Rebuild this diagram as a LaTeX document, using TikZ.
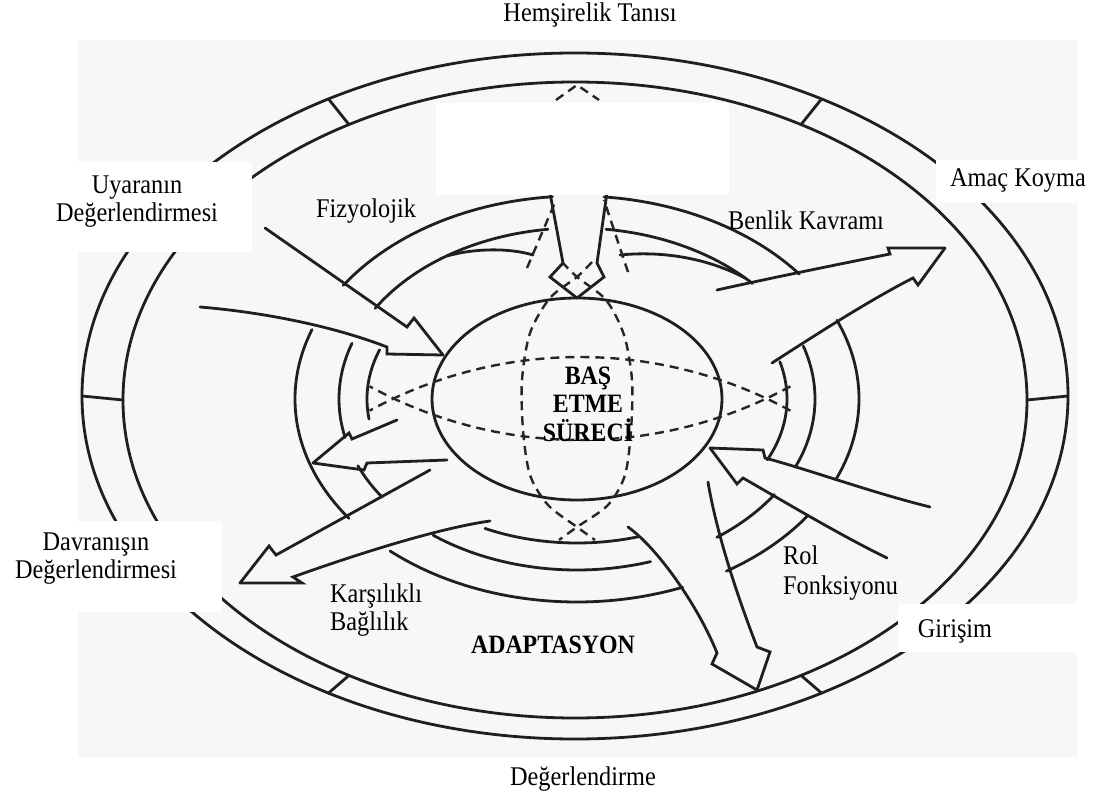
\documentclass[tikz,border=0pt]{standalone}
\usepackage{fontspec}
\setmainfont{Liberation Serif}[FakeStretch=0.9]
\newcommand\earc[6]{\draw[ln] plot[domain=#5:#6, samples=80, variable=\t] ({#1+#3*cos(\t)},{#2-#4*sin(\t)});}
\begin{document}
\begin{tikzpicture}[x=1pt,y=-1pt,
  ln/.style={line width=2.8pt, draw=black!88, line join=miter, line cap=round},
  dsh/.style={line width=2.4pt, draw=black!85, dash pattern=on 9pt off 6pt},
  lbl/.style={font=\fontsize{27}{28}\selectfont, inner sep=0pt, align=center},
  blbl/.style={font=\fontsize{26.5}{28.5}\selectfont\bfseries, inner sep=0pt, align=center}]
\useasboundingbox (0,0) rectangle (1103,799);
\fill[black!3] (78,40) rectangle (1077,757);
% outer double ring with divisions
\draw[ln] (575,396) ellipse[x radius=493, y radius=343];
\draw[ln] (575,400) ellipse[x radius=452, y radius=318];
\foreach \a in {0,60,...,300}{\draw[ln] ({575+452*cos(\a)},{400-318*sin(\a)}) -- ({575+493*cos(\a)},{396-343*sin(\a)});}
% central coping ellipse
\draw[ln] (577,399) ellipse[x radius=145, y radius=101];
% mode ellipse E1
\earc{577}{399}{282}{203}{95}{146}
\earc{577}{399}{282}{203}{160}{216}
\earc{577}{399}{282}{203}{228.5}{292}
\earc{577}{399}{282}{203}{302}{325}
\earc{577}{399}{282}{203}{-23.5}{22.8}
\earc{577}{399}{282}{203}{38}{84.5}
% E2
\earc{577}{399}{238}{171}{97}{148}
\earc{577}{399}{238}{171}{161}{193}
\earc{577}{399}{238}{171}{203}{215}
\earc{577}{399}{238}{171}{232.8}{288}
\earc{577}{399}{238}{171}{306}{326}
\earc{577}{399}{238}{171}{-23.5}{18}
\earc{577}{399}{238}{171}{42.5}{83}
% E3
\earc{577}{399}{210}{144}{160}{188}
\earc{577}{399}{210}{144}{244}{287}
\earc{577}{399}{210}{144}{-25}{15}
% inner branch curves at top
\draw[ln] (447,256) .. controls (475,248) and (510,248) .. (533,255);
\draw[ln] (745,278) .. controls (705,257) and (660,251) .. (620,255);
% arrow: Uyaranin -> centre
\draw[ln] (265,228) -- (407,327) -- (414,318) -- (443,355);
\draw[ln] (200,307) .. controls (260,312) and (330,325) .. (387,347) -- (387,354) -- (443,355);
% arrow: top -> centre
\draw[ln] (542,150) -- (563,263) -- (550,277) -- (577,298);
\draw[ln] (613,150) -- (597,263) -- (604,277) -- (577,298);
% arrow: -> Amac Koyma
\draw[ln] (717,290) .. controls (780,276) and (850,262) .. (890,254) -- (888,248) -- (945,248);
\draw[ln] (772,363) .. controls (820,332) and (870,300) .. (913,278) -- (918,285) -- (945,248);
% arrow: Rol side -> centre
\draw[ln] (930,507) .. controls (870,492) and (810,470) .. (765,458) -- (763,450) -- (710,448);
\draw[ln] (887,558) .. controls (840,535) and (790,505) .. (743,478) -- (737,484) -- (710,448);
% arrow: -> Degerlendirme
\draw[ln] (628,527) .. controls (660,550) and (700,610) .. (717,653) -- (712,664) -- (757,690);
\draw[ln] (708,482) .. controls (716,530) and (735,590) .. (757,647) -- (770,652) -- (757,690);
% arrow: -> Davranisin Degerlendirmesi
\draw[ln] (430,470) -- (276,555) -- (269,546) -- (240,583);
\draw[ln] (490,521) .. controls (440,528) and (360,553) .. (293,577) -- (302,583) -- (240,583);
% small arrow to the left
\draw[ln] (397,420) -- (352,439) -- (349,433) -- (313,463);
\draw[ln] (447,460) -- (367,463) -- (364,470) -- (313,463);
% dashed lenses
\draw[dsh] plot[domain=61.4:118.6, samples=60, variable=\t] ({580+439.5*cos(\t)},{796.5-439.5*sin(\t)});
\draw[dsh] plot[domain=61.4:118.6, samples=60, variable=\t] ({580+439.5*cos(\t)},{0.5+439.5*sin(\t)});
\draw[dsh] plot[smooth] coordinates {(592,262) (577,277) (550,298) (530,333) (522,380) (523,430) (530,475) (548,505) (577,527) (595,540)};
\draw[dsh] plot[smooth] coordinates {(562,262) (577,277) (606,300) (624,335) (632,380) (631,430) (625,475) (608,505) (577,527) (559,540)};
\draw[dsh] (527,268) -- (556,200);
\draw[dsh] (628,272) -- (604,200);
\draw[dsh] (556,100) -- (577,85) -- (599,100);
% white patches
\fill[white] (436,103) rectangle (729,195);
\fill[white] (40,162) rectangle (252,252);
\fill[white] (936,160) rectangle (1103,203);
\fill[white] (0,521) rectangle (222,612);
\fill[white] (898,604) rectangle (1103,652);
% labels
\node[lbl] (hem) at (590,15) {Hemşirelik Tanısı};
\node[lbl] (uya) at (137,202) {Uyaranın\\Değerlendirmesi};
\node[lbl] (fiz) at (366,211) {Fizyolojik};
\node[lbl] (ben) at (806,220) {Benlik Kavramı};
\node[lbl] (ama) at (1018,181) {Amaç Koyma};
\node[lbl] (dav) at (96,559) {Davranışın\\Değerlendirmesi};
\node[lbl, align=left, anchor=west] (kar) at (330,610) {Karşılıklı\\Bağlılık};
\node[lbl, align=left, anchor=west, font=\fontsize{27}{30}\selectfont] (rol) at (783,573) {Rol\\Fonksiyonu};
\node[lbl] (gir) at (955,631) {Girişim};
\node[blbl] (ada) at (553,645) {ADAPTASYON};
\node[blbl] (bas) at (588,404) {BAŞ\\ETME\\SÜRECİ};
\node[lbl] (deg) at (583,779) {Değerlendirme};
\end{tikzpicture}
\end{document}
